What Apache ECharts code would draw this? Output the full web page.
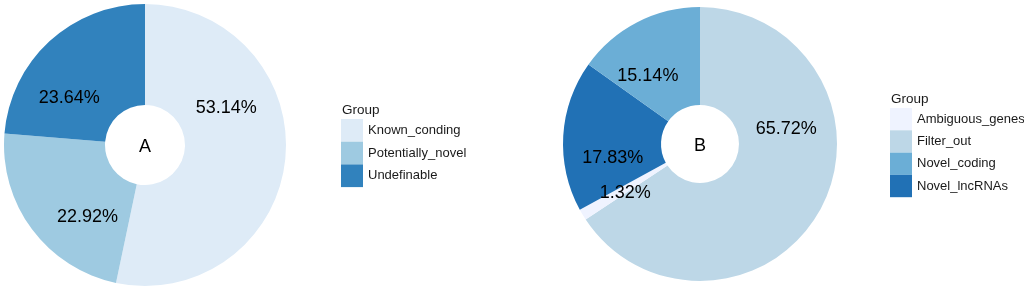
<!DOCTYPE html>
<html>
<head>
<meta charset="utf-8">
<style>
  html, body { margin: 0; padding: 0; background: #fff; }
  #main { width: 1024px; height: 290px; }
</style>
<script src="https://cdn.jsdelivr.net/npm/echarts@6/dist/echarts.min.js"></script>
</head>
<body>
<div id="main"></div>
<script>
// panel A
const groupsA = ['Known_conding', 'Potentially_novel', 'Undefinable'];
const valuesA = [53.14, 22.92, 23.64];
// panel B (drawing order, clockwise from top)
const groupsB = ['Filter_out', 'Ambiguous_genes', 'Novel_lncRNAs', 'Novel_coding'];
const valuesB = [65.72, 1.32, 17.83, 15.14];
const legendB = ['Ambiguous_genes', 'Filter_out', 'Novel_coding', 'Novel_lncRNAs'];

const colors = {
  Known_conding: '#deebf7',
  Potentially_novel: '#9ecae1',
  Undefinable: '#3182bd',
  Ambiguous_genes: '#eff3ff',
  Filter_out: '#bdd7e7',
  Novel_coding: '#6baed6',
  Novel_lncRNAs: '#2171b5'
};

const font = 'Liberation Sans, Arial, sans-serif';
const pies = [
  { center: [145, 145], radius: [40, 141] },
  { center: [700, 144], radius: [39, 137] }
];
const textShift = 2.5; // text sits a bit low in the original

// labels sit a third of the way into each slice (as in the original plot)
function labelAngles(values) {
  const total = values.reduce((a, b) => a + b, 0);
  let cum = 0;
  return values.map(v => {
    const a = (cum + v / 3) / total * 2 * Math.PI;
    cum += v;
    return a;
  });
}
const angles = [labelAngles(valuesA), labelAngles(valuesB)];

function makeSeries(idx, names, values) {
  const p = pies[idx];
  return {
    type: 'pie',
    name: 'panel' + idx,
    center: p.center,
    radius: p.radius,
    startAngle: 90,
    clockwise: true,
    silent: true,
    label: {
      show: true,
      position: 'inside',
      formatter: '{c}%',
      color: '#000',
      fontSize: 18,
      fontFamily: font
    },
    labelLine: { show: false },
    labelLayout: function (params) {
      const a = angles[idx][params.dataIndex];
      const r = (p.radius[0] + p.radius[1]) / 2;
      return {
        x: p.center[0] + r * Math.sin(a),
        y: p.center[1] - r * Math.cos(a) + textShift,
        align: 'center',
        verticalAlign: 'middle'
      };
    },
    emphasis: { disabled: true },
    data: names.map((n, i) => ({
      name: n,
      value: values[i],
      itemStyle: { color: colors[n] }
    }))
  };
}

function makeLegend(names, left, top, h) {
  return {
    data: names,
    orient: 'vertical',
    left: left,
    top: top,
    padding: 0,
    icon: 'rect',
    itemWidth: 22,
    itemHeight: h,
    itemGap: 0,
    selectedMode: false,
    textStyle: { fontSize: 13, color: '#1a1a1a', fontFamily: font, overflow: 'none', width: 140 }
  };
}

const chart = echarts.init(document.getElementById('main'));
chart.setOption({
  animation: false,
  legend: [
    makeLegend(groupsA, 341, 119, 22.7),
    makeLegend(legendB, 890, 108, 22.3)
  ],
  graphic: [
    { type: 'text', x: 145, y: 145 + textShift, style: { text: 'A', textAlign: 'center', textVerticalAlign: 'middle', fontSize: 18, fontFamily: font, fill: '#000' } },
    { type: 'text', x: 700, y: 144 + textShift, style: { text: 'B', textAlign: 'center', textVerticalAlign: 'middle', fontSize: 18, fontFamily: font, fill: '#000' } },
    { type: 'text', x: 342, y: 110, style: { text: 'Group', textAlign: 'left', textVerticalAlign: 'middle', fontSize: 13.5, fontFamily: font, fill: '#1a1a1a' } },
    { type: 'text', x: 891, y: 99, style: { text: 'Group', textAlign: 'left', textVerticalAlign: 'middle', fontSize: 13.5, fontFamily: font, fill: '#1a1a1a' } }
  ],
  series: [
    makeSeries(0, groupsA, valuesA),
    makeSeries(1, groupsB, valuesB)
  ]
});
</script>
</body>
</html>
